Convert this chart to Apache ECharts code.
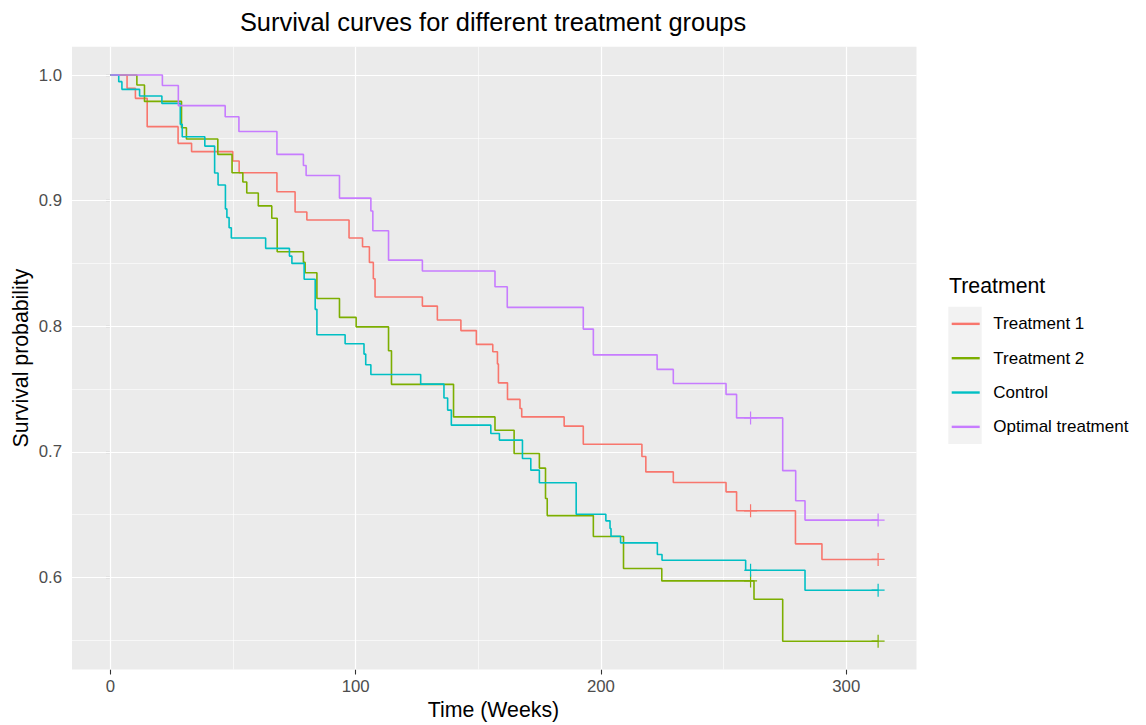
<!DOCTYPE html>
<html>
<head>
<meta charset="utf-8">
<script src="https://cdn.jsdelivr.net/npm/echarts@6/dist/echarts.min.js"></script>
<style>
  html, body { margin: 0; padding: 0; background: #ffffff; }
  #chart { width: 1146px; height: 725px; }
</style>
</head>
<body>
<div id="chart"></div>
<script>
// Kaplan-Meier estimates: time (weeks) at which each drop happens and the survival after it
const groups = ['Treatment 1', 'Treatment 2', 'Control', 'Optimal treatment'];
const groupColors = ['#F8766D', '#7CAE00', '#00BFC4', '#C77CFF'];

const t1Times = [0, 6.8, 10.2, 15.0, 27.6, 33.1, 49.9, 52.5, 67.9, 75.3, 80.1, 97.3, 102.8, 105.6, 107.2, 107.9,
  127.2, 133.3, 142.9, 149.2, 155.9, 157.8, 158.2, 161.9, 167.0, 167.7, 185.0, 192.8, 216.7, 218.3, 229.5,
  251.0, 255.3, 279.3, 290.1];
const t1Surv = [1, 0.9894, 0.9814, 0.9589, 0.9456, 0.9390, 0.9315, 0.9222, 0.9070, 0.8909, 0.8845, 0.8702, 0.8633,
  0.8508, 0.8378, 0.8232, 0.8160, 0.8049, 0.7965, 0.7855, 0.7796, 0.7700, 0.7549, 0.7417, 0.7345, 0.7278,
  0.7204, 0.7060, 0.6962, 0.6840, 0.6755, 0.6681, 0.6530, 0.6267, 0.6143];

const t2Times = [0, 10.8, 13.9, 29.0, 31.0, 43.8, 49.6, 54.0, 55.6, 60.3, 65.8, 68.0, 78.7, 79.4, 84.2, 93.4,
  100.2, 113.4, 114.6, 139.9, 156.8, 164.6, 174.9, 177.4, 178.1, 196.9, 209.2, 224.8, 262.4, 274.1];
const t2Surv = [1, 0.9920, 0.9790, 0.9580, 0.9490, 0.9368, 0.9222, 0.9148, 0.9060, 0.8958, 0.8860, 0.8593, 0.8508,
  0.8425, 0.8221, 0.8070, 0.7995, 0.7804, 0.7537, 0.7278, 0.7172, 0.6987, 0.6870, 0.6628, 0.6492, 0.6326,
  0.6071, 0.5972, 0.5826, 0.5492];

const ctrlTimes = [0, 3.4, 4.7, 11.9, 21.0, 28.5, 29.3, 38.5, 42.5, 43.9, 46.9, 47.5, 48.4, 49.3, 63.3, 73.0, 74.0,
  79.0, 83.5, 84.2, 95.7, 103.4, 104.1, 106.2, 126.5, 136.0, 137.5, 139.0, 155.1, 158.6, 168.0, 171.4, 174.9,
  189.9, 202.0, 203.7, 204.1, 208.0, 223.0, 224.9, 259.0, 283.2];
const ctrlSurv = [1, 0.9947, 0.9886, 0.9833, 0.9774, 0.9607, 0.9509, 0.9434, 0.9220, 0.9124, 0.8934, 0.8865, 0.8784,
  0.8702, 0.8620, 0.8558, 0.8500, 0.8374, 0.8134, 0.7932, 0.7860, 0.7778, 0.7693, 0.7616, 0.7539, 0.7428,
  0.7332, 0.7212, 0.7146, 0.7093, 0.6947, 0.6854, 0.6753, 0.6503, 0.6450, 0.6389, 0.6328, 0.6275, 0.6182,
  0.6137, 0.6057, 0.5898];

const optTimes = [0, 21.2, 27.7, 46.8, 52.4, 67.9, 78.7, 79.8, 93.4, 106.2, 107.0, 113.4, 127.2, 156.8, 161.8,
  192.8, 196.9, 222.9, 229.5, 251.0, 255.3, 274.1, 279.4, 283.2];
const optSurv = [1, 0.9917, 0.9756, 0.9668, 0.9550, 0.9368, 0.9280, 0.9200, 0.9020, 0.8917, 0.8760, 0.8526, 0.8440,
  0.8314, 0.8150, 0.7977, 0.7772, 0.7656, 0.7544, 0.7457, 0.7270, 0.6850, 0.6610, 0.6456];

// censored observations (same for every group); the last one closes the follow-up
const censorTimes = [261, 313];

const xTicks = [0, 100, 200, 300];
const xMinor = [50, 150, 250];
const yTicks = [0.6, 0.7, 0.8, 0.9, 1.0];
const yMinor = [0.55, 0.65, 0.75, 0.85, 0.95];

const groupTimes = [t1Times, t2Times, ctrlTimes, optTimes];
const groupSurv = [t1Surv, t2Surv, ctrlSurv, optSurv];

function survivalAt(times, surv, t) {
  let s = surv[0];
  for (let i = 0; i < times.length; i++) {
    if (times[i] <= t) s = surv[i];
  }
  return s;
}

const followUpEnd = censorTimes[censorTimes.length - 1];

// axis limits padded by 5% of the data range on each side
const allSurv = [].concat(...groupSurv);
const yLo = Math.min(...allSurv), yHi = Math.max(...allSurv);
const xPad = 0.05 * followUpEnd;
const yPad = 0.05 * (yHi - yLo);

const plusSymbol = 'path://M-0.6,-6.5H0.6V6.5H-0.6Z M-6.5,-0.6H6.5V0.6H-6.5Z';
const FONT = '"Liberation Sans", Arial, sans-serif';

const series = [];

// panel grid lines
series.push({
  type: 'line',
  data: [],
  silent: true,
  markLine: {
    z: 1,
    silent: true,
    animation: false,
    symbol: ['none', 'none'],
    label: { show: false },
    lineStyle: { color: '#FFFFFF', type: 'solid', width: 1.2 },
    emphasis: { disabled: true },
    data: [
      ...xMinor.map(v => ({ xAxis: v, lineStyle: { width: 0.6, color: '#FFFFFF', type: 'solid' } })),
      ...yMinor.map(v => ({ yAxis: v, lineStyle: { width: 0.6, color: '#FFFFFF', type: 'solid' } })),
      ...xTicks.map(v => ({ xAxis: v })),
      ...yTicks.map(v => ({ yAxis: v }))
    ]
  }
});

groups.forEach((name, g) => {
  const times = groupTimes[g], surv = groupSurv[g];
  const pts = times.map((t, i) => [t, surv[i]]);
  pts.push([followUpEnd, surv[surv.length - 1]]);
  series.push({
    name: name,
    type: 'line',
    step: 'end',
    data: pts,
    showSymbol: false,
    symbol: 'none',
    color: groupColors[g],
    lineStyle: { width: 1.6, color: groupColors[g] },
    z: 2
  });
  series.push({
    name: name,
    type: 'scatter',
    data: censorTimes.map(t => [t, survivalAt(times, surv, t)]),
    symbol: plusSymbol,
    symbolSize: 13,
    color: groupColors[g],
    itemStyle: { color: groupColors[g], opacity: 1 },
    z: 3
  });
});

const chart = echarts.init(document.getElementById('chart'), null, { renderer: 'svg' });

chart.setOption({
  animation: false,
  backgroundColor: '#FFFFFF',
  textStyle: { fontFamily: FONT },
  grid: {
    left: 72, right: 229.5, top: 46.7, bottom: 55.5,
    show: true, backgroundColor: '#EBEBEB', borderWidth: 0
  },
  xAxis: {
    type: 'value',
    min: -xPad,
    max: followUpEnd + xPad,
    axisLine: { show: false },
    splitLine: { show: false },
    axisTick: { show: true, customValues: xTicks, length: 5, lineStyle: { color: '#333333', width: 1.1 } },
    axisLabel: { customValues: xTicks, color: '#4D4D4D', fontSize: 16.8, margin: 8, fontFamily: FONT }
  },
  yAxis: {
    type: 'value',
    min: yLo - yPad,
    max: yHi + yPad,
    axisLine: { show: false },
    splitLine: { show: false },
    axisTick: { show: true, customValues: yTicks, length: 5, lineStyle: { color: '#333333', width: 1.1 } },
    axisLabel: {
      customValues: yTicks, color: '#4D4D4D', fontSize: 16.8, margin: 10,
      formatter: v => v.toFixed(1), fontFamily: FONT
    }
  },
  legend: {
    data: groups,
    orient: 'vertical',
    left: 951.7,
    top: 306.7,
    padding: 0,
    itemGap: 0,
    itemWidth: 28,
    itemHeight: 2.4,
    icon: 'rect',
    selectedMode: false,
    textStyle: {
      color: '#000000', fontSize: 17, lineHeight: 34.33,
      padding: [0, 0, 0, 8.6], fontFamily: FONT
    }
  },
  graphic: [
    {
      type: 'rect', z: -1, silent: true,
      shape: { x: 948.3, y: 306.7, width: 33.4, height: 137.3 },
      style: { fill: '#F2F2F2' }
    },
    {
      type: 'text', x: 493, y: 22, silent: true,
      style: {
        text: 'Survival curves for different treatment groups', fill: '#000000',
        fontSize: 25.4, fontFamily: FONT, textAlign: 'center', textVerticalAlign: 'middle'
      }
    },
    {
      type: 'text', x: 493.5, y: 710, silent: true,
      style: {
        text: 'Time (Weeks)', fill: '#000000',
        fontSize: 21.3, fontFamily: FONT, textAlign: 'center', textVerticalAlign: 'middle'
      }
    },
    {
      type: 'text', x: 21, y: 358, rotation: Math.PI / 2, silent: true,
      style: {
        text: 'Survival probability', fill: '#000000',
        fontSize: 21.3, fontFamily: FONT, textAlign: 'center', textVerticalAlign: 'middle'
      }
    },
    {
      type: 'text', x: 949, y: 286, silent: true,
      style: {
        text: 'Treatment', fill: '#000000',
        fontSize: 21.3, fontFamily: FONT, textAlign: 'left', textVerticalAlign: 'middle'
      }
    }
  ],
  series: series
});
</script>
</body>
</html>
